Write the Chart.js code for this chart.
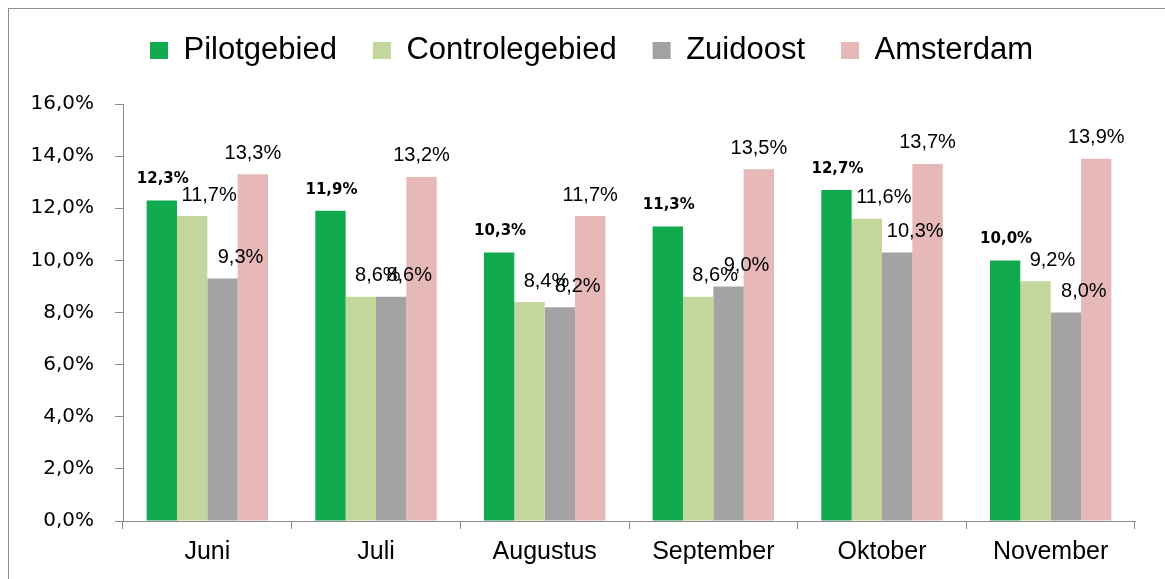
<!DOCTYPE html>
<html>
<head>
<meta charset="utf-8">
<script src="https://cdn.jsdelivr.net/npm/chart.js@4"></script>
<style>
  html, body { margin: 0; padding: 0; background: #fff; }
  #frame { position: absolute; left: 8px; top: 8px; width: 1200px; height: 600px; border: 1px solid #8f8f8f; }
  #wrap { position: absolute; left: 0; top: 0; width: 1165px; height: 579px; }
</style>
</head>
<body>
<div id="frame"></div>
<div id="wrap"><canvas id="chart"></canvas></div>
<script>
// months on the x axis
const months = ['Juni', 'Juli', 'Augustus', 'September', 'Oktober', 'November'];
// percentages per area
const pilotgebied = [12.3, 11.9, 10.3, 11.3, 12.7, 10.0];
const controlegebied = [11.7, 8.6, 8.4, 8.6, 11.6, 9.2];
const zuidoost = [9.3, 8.6, 8.2, 9.0, 10.3, 8.0];
const amsterdam = [13.3, 13.2, 11.7, 13.5, 13.7, 13.9];

function pct(v) {
    return v.toFixed(1).replace('.', ',') + '%';
}

// how far each series' label sits right of its bar
const labelShift = [1, 17, 18, 0];

// draws the value above each bar, the pilot ones in bold
const barLabels = {
    id: 'barLabels',
    afterDatasetsDraw(chart) {
        const ctx = chart.ctx;
        ctx.save();
        ctx.textAlign = 'center';
        ctx.textBaseline = 'middle';
        ctx.fillStyle = '#000';
        chart.data.datasets.forEach((ds, i) => {
            const meta = chart.getDatasetMeta(i);
            ctx.font = i === 0 ? 'bold 15px "DejaVu Sans"' : '20px "Liberation Sans"';
            meta.data.forEach((bar, j) => {
                ctx.fillText(pct(ds.data[j]), bar.x + labelShift[i], bar.y - 21);
            });
        });
        ctx.restore();
    }
};

// fixed legend height so the plot starts at the right spot,
// and nudge it a bit to the right like the original
const legendFix = {
    id: 'legendFix',
    beforeInit(chart) {
        const fit = chart.legend.fit;
        chart.legend.fit = function () {
            fit.bind(chart.legend)();
            this.height = 105;
        };
    },
    afterLayout(chart) {
        chart.legend.left += 19;
        chart.legend.right += 19;
    }
};

const ctx = document.getElementById('chart').getContext('2d');
new Chart(ctx, {
    type: 'bar',
    data: {
        labels: months,
        datasets: [
            { label: 'Pilotgebied', data: pilotgebied, backgroundColor: '#12AA4E' },
            { label: 'Controlegebied', data: controlegebied, backgroundColor: '#C3D69B' },
            { label: 'Zuidoost', data: zuidoost, backgroundColor: '#A3A3A3' },
            { label: 'Amsterdam', data: amsterdam, backgroundColor: '#E6B9B8' }
        ]
    },
    options: {
        responsive: true,
        maintainAspectRatio: false,
        animation: false,
        layout: { padding: { left: 10, right: 30, top: -1, bottom: 0 } },
        datasets: {
            bar: { barPercentage: 1.0, categoryPercentage: 0.72 }
        },
        plugins: {
            legend: {
                display: true,
                labels: {
                    boxWidth: 18,
                    boxHeight: 17,
                    padding: 36,
                    color: '#000',
                    font: { family: 'Liberation Sans', size: 31 }
                }
            },
            tooltip: { enabled: false }
        },
        scales: {
            x: {
                offset: true,
                grid: {
                    offset: true,
                    drawOnChartArea: false,
                    tickLength: 8,
                    color: '#8c8c8c'
                },
                border: { color: '#8c8c8c' },
                ticks: {
                    color: '#000',
                    padding: 8,
                    font: { family: 'Liberation Sans', size: 25 }
                },
                afterFit: (s) => { s.height = 58; }
            },
            y: {
                min: 0,
                max: 16,
                ticks: {
                    stepSize: 2,
                    color: '#000',
                    padding: 21,
                    font: { family: 'DejaVu Sans', size: 20 },
                    callback: (v) => pct(v)
                },
                grid: {
                    drawOnChartArea: false,
                    tickLength: 8,
                    color: '#8c8c8c'
                },
                border: { color: '#8c8c8c' },
                afterFit: (s) => { s.width = 113; }
            }
        }
    },
    plugins: [barLabels, legendFix]
});
</script>
</body>
</html>
